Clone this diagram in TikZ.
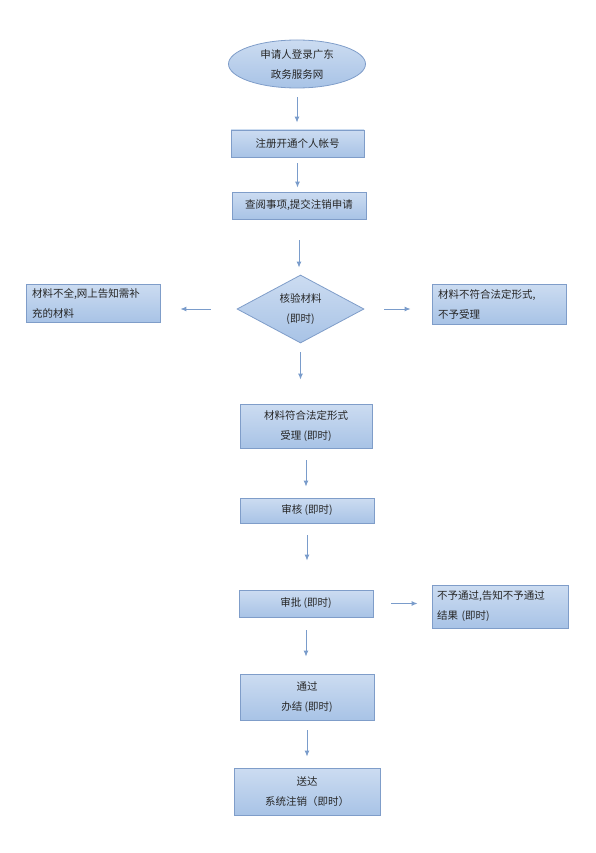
\documentclass[tikz,border=0pt]{standalone}
\usepackage{fontspec}
\usepackage{tikz}
\usetikzlibrary{shapes.geometric, arrows.meta}
\newfontfamily\cjk{Noto Sans CJK SC}
\definecolor{boxline}{HTML}{7F9DC9}
\definecolor{boxtop}{HTML}{CCDCF1}
\definecolor{boxbot}{HTML}{A8C3E6}
\definecolor{arrline}{HTML}{7A9CCB}

\begin{document}
\begin{tikzpicture}[x=1pt, y=-1pt,
	every node/.style={font=\cjk\fontsize{10.5}{20}\selectfont, text=black!85},
	fbox/.style={draw=boxline, line width=0.8pt, top color=boxtop, bottom color=boxbot, inner sep=0pt, align=center},
	sidebox/.style={fbox, align=left},
	arr/.style={draw=arrline, line width=1pt, -{Latex[length=6pt,width=5pt]}}]
			\useasboundingbox (0,0) rectangle (596,853);
			% start
			\node[fbox, ellipse, minimum width=137pt, minimum height=48pt] (login) at (297,64) {申请人登录广东\\政务服务网};
			\node[fbox, minimum width=133pt, minimum height=27pt] (reg) at (297.5,143.5) {注册开通个人帐号};
			\node[fbox, minimum width=134pt, minimum height=27pt] (apply) at (299,205.5) {查阅事项,提交注销申请};
			% check
			\node[fbox, diamond, aspect=1.87, minimum width=127pt, minimum height=68pt, inner sep=0pt] (check) at (300.5,309) {核验材料\\(即时)};
			\node[sidebox, minimum width=134pt, minimum height=38pt, text width=122pt] (lack) at (93,303) {材料不全,网上告知需补\\充的材料};
			\node[sidebox, minimum width=134pt, minimum height=40pt, text width=122pt] (reject) at (499,304) {材料不符合法定形式,\\不予受理};
			% accept
			\node[fbox, minimum width=132pt, minimum height=44pt] (accept) at (306,426) {材料符合法定形式\\受理 (即时)};
			\node[fbox, minimum width=134pt, minimum height=25pt] (review) at (307,510.5) {审核 (即时)};
			\node[fbox, minimum width=134pt, minimum height=27pt] (approve) at (306,603.5) {审批 (即时)};
			\node[sidebox, minimum width=136pt, minimum height=43pt, text width=126pt] (deny) at (500,606.5) {不予通过,告知不予通过\\结果 (即时)};
			\node[fbox, minimum width=134pt, minimum height=46pt] (done) at (307,697) {通过\\办结 (即时)};
			\node[fbox, minimum width=146pt, minimum height=47pt] (send) at (307,791.5) {送达\\系统注销（即时）};
			% arrows
			\draw[arr, shorten <=9pt, shorten >=7pt] (login.south) -- (login.south |- reg.north);
			\draw[arr, shorten <=6pt, shorten >=4pt] (reg.south) -- (reg.south |- apply.north);
			\draw[arr, shorten <=21pt, shorten >=7pt] (apply.south) -- (apply.south |- check.north);
			\draw[arr, shorten <=26pt, shorten >=20pt] (check.west) -- (lack.east |- check.west);
			\draw[arr, shorten <=20pt, shorten >=21pt] (check.east) -- (reject.west |- check.east);
			\draw[arr, shorten <=9pt, shorten >=24pt] (check.south) -- (check.south |- accept.north);
			\draw[arr, shorten <=12pt, shorten >=11pt] (accept.south) -- (accept.south |- review.north);
			\draw[arr, shorten <=12pt, shorten >=29pt] (review.south) -- (review.south |- approve.north);
			\draw[arr, shorten <=18pt, shorten >=14pt] (approve.east) -- (deny.west |- approve.east);
			\draw[arr, shorten <=13pt, shorten >=17pt] (approve.south) -- (approve.south |- done.north);
			\draw[arr, shorten <=10pt, shorten >=11pt] (done.south) -- (done.south |- send.north);
			\end{tikzpicture}
\end{document}
